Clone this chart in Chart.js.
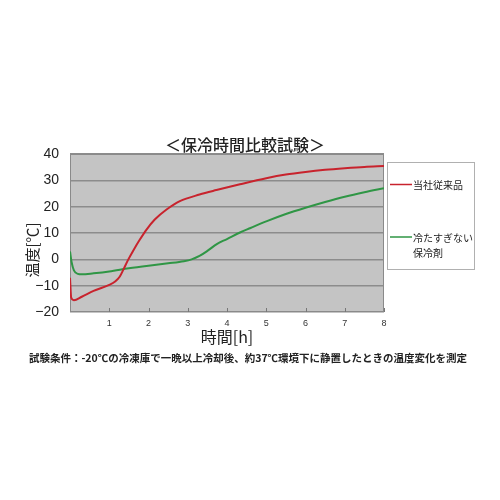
<!DOCTYPE html>
<html>
<head>
<meta charset="utf-8">
<script src="https://cdn.jsdelivr.net/npm/chart.js@4"></script>
<style>
  html, body { margin: 0; padding: 0; background: #fff; }
</style>
</head>
<body>
<canvas id="myChart" width="500" height="500"></canvas>
<script>
const chartTitle = "＜保冷時間比較試験＞";
const yTitle = "温度[℃]";
const xTitle = "時間[h]";
const note = "試験条件：-20℃の冷凍庫で一晩以上冷却後、約37℃環境下に静置したときの温度変化を測定";

const seriesLabels = [["当社従来品"], ["冷たすぎない", "保冷剤"]];
const seriesColors = ["#c8232d", "#2f9645"];

// hours / temperature
const hoursRed = [0, 0.03, 0.1, 0.3, 0.6, 1.0, 1.15, 1.27, 1.36, 1.48, 1.61, 1.78, 1.95, 2.16, 2.46, 2.8, 3.3, 3.73, 4.33, 5.0, 5.5, 6.0, 6.5, 7.0, 7.5, 8.0];
const tempRed = [-7, -14.5, -15.5, -14.2, -12, -9.7, -8.4, -6.5, -3.9, -0.2, 3.3, 7.5, 11.3, 15.1, 18.9, 22.1, 24.6, 26.3, 28.5, 30.8, 32.2, 33.2, 34.0, 34.6, 35.1, 35.4];

const hoursGreen = [0, 0.04, 0.1, 0.2, 0.3, 0.6, 1.0, 1.5, 2.0, 2.5, 2.9, 3.1, 3.3, 3.5, 3.75, 4.0, 4.33, 4.6, 5.0, 5.5, 6.0, 6.5, 7.0, 7.5, 8.0];
const tempGreen = [3, -1, -4.2, -5.5, -5.7, -5.3, -4.6, -3.4, -2.4, -1.5, -0.7, 0, 1.3, 3.2, 5.9, 7.7, 10.2, 11.9, 14.4, 17.2, 19.6, 21.8, 23.8, 25.5, 27];

const xTicks = [1, 2, 3, 4, 5, 6, 7, 8];

const jp = "'Noto Sans CJK JP', 'Noto Sans', sans-serif";
const num = "'Liberation Sans', Arial, sans-serif";

const toPoints = (xs, ys) => xs.map((x, i) => ({ x: x, y: ys[i] }));

const decor = {
  id: "decor",
  beforeDraw(chart) {
    const { ctx, chartArea: a } = chart;
    ctx.save();
    ctx.fillStyle = "#c4c4c4";
    ctx.fillRect(a.left, a.top, a.right - a.left, a.bottom - a.top);
    ctx.restore();
  },
  beforeDatasetsDraw(chart) {
    const { ctx, chartArea: a, scales } = chart;
    ctx.save();
    ctx.strokeStyle = "#8a8a8a";
    ctx.lineWidth = 1;
    ctx.strokeRect(a.left + 0.5, a.top + 0.5, a.right - a.left - 1, a.bottom - a.top - 1);
    ctx.strokeStyle = "#777";
    ctx.beginPath();
    xTicks.forEach((t) => {
      const px = Math.round(scales.x.getPixelForValue(t)) + 0.5;
      ctx.moveTo(px, a.bottom);
      ctx.lineTo(px, a.bottom - 4);
    });
    ctx.stroke();
    ctx.restore();
  },
  afterDraw(chart) {
    const { ctx } = chart;
    ctx.save();
    ctx.fillStyle = "#222";

    // title
    ctx.font = "500 16px " + jp;
    ctx.textAlign = "center";
    ctx.textBaseline = "middle";
    ctx.fillText(chartTitle, 245, 145);

    // y axis title
    ctx.save();
    ctx.translate(32, 250);
    ctx.rotate(-Math.PI / 2);
    ctx.font = "15px " + jp;
    ctx.fillText(yTitle, 0, 0);
    ctx.restore();

    // note
    ctx.font = "bold 10.5px " + jp;
    ctx.fillText(note, 248, 358, 442);

    // legend box
    ctx.fillStyle = "#fff";
    ctx.fillRect(387.5, 162.5, 87, 107);
    ctx.strokeStyle = "#b0b0b0";
    ctx.lineWidth = 1;
    ctx.strokeRect(387.5, 162.5, 87, 107);
    const rows = [184.5, 237];
    ctx.font = "10px " + jp;
    ctx.textAlign = "left";
    chart.data.datasets.forEach((ds, i) => {
      const y = rows[i];
      ctx.strokeStyle = ds.borderColor;
      ctx.lineWidth = 1.5;
      ctx.beginPath();
      ctx.moveTo(390, y);
      ctx.lineTo(412, y);
      ctx.stroke();
      ctx.fillStyle = "#222";
      seriesLabels[i].forEach((line, j) => {
        ctx.fillText(line, 413, y + 1 + j * 15);
      });
    });
    ctx.restore();
  },
};

const ctx = document.getElementById("myChart").getContext("2d");
const chart = new Chart(ctx, {
  type: "line",
  data: {
    datasets: [
      {
        label: seriesLabels[0].join(""),
        data: toPoints(hoursRed, tempRed),
        borderColor: seriesColors[0],
        borderWidth: 2,
        pointRadius: 0,
        cubicInterpolationMode: "monotone",
      },
      {
        label: seriesLabels[1].join(""),
        data: toPoints(hoursGreen, tempGreen),
        borderColor: seriesColors[1],
        borderWidth: 2,
        pointRadius: 0,
        cubicInterpolationMode: "monotone",
      },
    ],
  },
  options: {
    responsive: false,
    animation: false,
    layout: { padding: { left: 30, right: 116, top: 154, bottom: 148 } },
    plugins: {
      legend: { display: false },
      title: { display: false },
      tooltip: { enabled: false },
    },
    scales: {
      x: {
        type: "linear",
        min: 0,
        max: 8,
        afterFit: (scale) => { scale.height = 40; },
        ticks: {
          stepSize: 1,
          padding: 6,
          color: "#333",
          font: { size: 9, family: num },
          callback: (v) => (v === 0 ? "" : v),
        },
        grid: { drawOnChartArea: false, drawTicks: false },
        border: { display: false },
        title: {
          display: true,
          text: xTitle,
          color: "#222",
          font: { size: 16, family: jp },
          padding: { top: 0, bottom: 5 },
        },
      },
      y: {
        min: -20,
        max: 40,
        afterFit: (scale) => { scale.width = 40; },
        ticks: {
          stepSize: 10,
          padding: 11,
          color: "#222",
          font: { size: 14, family: num },
          callback: (v) => (v < 0 ? "−" + Math.abs(v) : v),
        },
        grid: { color: "#8c8c8c", lineWidth: 1.5, drawTicks: false },
        border: { display: false },
      },
    },
  },
  plugins: [decor],
});
</script>
</body>
</html>
